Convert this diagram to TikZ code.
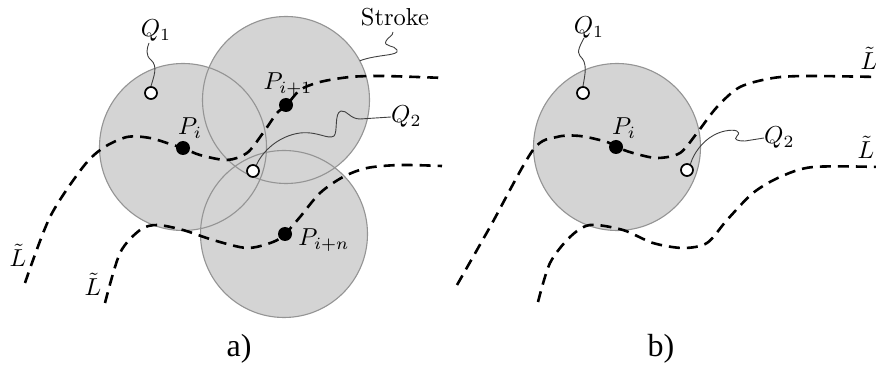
\documentclass[tikz,border=0pt]{standalone}
\usepackage{fontspec}
\usepackage{graphicx}
\newfontfamily\capfont{Liberation Serif}
\usetikzlibrary{calc}
\newcommand{\sclab}[1]{\scalebox{2.45}{#1}}
\begin{document}
\begin{tikzpicture}[x=1pt,y=-1pt,
  diskfill/.style={fill=black!17},
  diskline/.style={draw=black!42,line width=1.1pt},
  curve/.style={line width=2.6pt,dash pattern=on 11pt off 7pt},
  leader/.style={draw=black!75,line width=0.9pt},
  openpt/.style={circle,draw=black,fill=white,line width=1.7pt,inner sep=0pt,minimum size=12pt},
  fullpt/.style={circle,fill=black,inner sep=0pt,minimum size=14pt},
  lab/.style={inner sep=0pt},
  caplab/.style={inner sep=0pt,font=\capfont\fontsize{32}{36}\selectfont}]
\useasboundingbox (0,0) rectangle (876,366);
\clip (0,0) rectangle (876,366);
% ---------- discs ----------
\coordinate (c1) at (183,147);
\coordinate (c2) at (286,100);
\coordinate (c3) at (284,234);
\coordinate (cb) at (617,147);
\foreach \c in {c1,c2,c3,cb} \fill[diskfill] (\c) circle[radius=83.5pt];
\foreach \c in {c1,c2,c3,cb} \draw[diskline] (\c) circle[radius=83.5pt];
% dashed curves a
\draw[curve] plot[smooth] coordinates {(25,283) (50,217) (83,167) (103,148) (127,137) (150,138) (173,145) (183,148) (200,155) (227,160) (247,153) (263,133) (277,113) (286,106) (300,90) (320,82) (350,77) (383,76) (445,78)};
\draw[curve] plot[smooth] coordinates {(105,303) (120,253) (140,230) (157,225) (183,230) (213,240) (247,248) (273,242) (285,234) (300,217) (320,193) (343,177) (367,168) (400,165) (442,166)};
% dashed curves b
\draw[curve] plot[smooth] coordinates {(457,285) (490,227) (533,150) (557,137) (580,136) (607,142) (616,147) (633,153) (657,158) (680,153) (697,133) (717,107) (740,87) (773,78) (807,76) (880,77)};
\draw[curve] plot[smooth] coordinates {(538,302) (550,263) (570,237) (590,225) (623,230) (653,243) (683,248) (707,243) (727,220) (753,193) (780,177) (813,167) (880,167)};
% points a
\node[openpt] (q1) at (151,93) {};
\node[fullpt] (pi) at (183,148) {};
\node[fullpt] (pi1) at (286,105) {};
\node[openpt] (q2) at (253,171) {};
\node[fullpt] (pin) at (285,234) {};
% labels a
\node[lab] (q1lab) at (156,31) {\sclab{$Q_1$}};
\node[lab] (pilab) at (190,128) {\sclab{$P_i$}};
\node[lab] (pi1lab) at (288,84) {\sclab{$P_{i+1}$}};
\node[lab,anchor=west] (q2lab) at (391,117) {\sclab{$Q_2$}};
\node[lab] (pinlab) at (324,240) {\sclab{$P_{i+n}$}};
\node[lab] (stroke) at (395,17) {\sclab{Stroke}};
\node[lab] (l1) at (18,255) {\sclab{$\tilde{L}$}};
\node[lab] (l2) at (93,284) {\sclab{$\tilde{L}$}};
\node[caplab] (capa) at (239,349) {a)};
% leaders a
\coordinate (q1end) at (149,43);
\draw[leader] (q1.north) .. controls (154,76) and (158,66) .. (151,60) .. controls (145,55) and (147,48) .. (q1end);
\coordinate (strokeend) at (393,32);
\draw[leader] ($(c2)+(28:83.5pt)$) .. controls (378,54) and (400,56) .. (397,50) .. controls (395,45) and (383,47) .. (386,41) .. controls (388,37) and (393,36) .. (strokeend);
\draw[leader] (q2.60) .. controls (262,152) and (278,136) .. (300,133) .. controls (318,131) and (328,140) .. (334,136) .. controls (338,132) and (334,113) .. (341,111) .. controls (347,110) and (350,119) .. (360,119) -- (q2lab.west);
% ---------- panel b ----------
\node[openpt] (q1b) at (583,93) {};
\node[fullpt] (pib) at (616,147) {};
\node[openpt] (q2b) at (687,170) {};
\node[lab] (q1blab) at (589,28) {\sclab{$Q_1$}};
\node[lab] (piblab) at (624,128) {\sclab{$P_i$}};
\node[lab,anchor=west] (q2blab) at (764,138) {\sclab{$Q_2$}};
\node[lab] (lb1) at (869,58) {\sclab{$\tilde{L}$}};
\node[lab] (lb2) at (866,147) {\sclab{$\tilde{L}$}};
\node[caplab] (capb) at (661,349) {b)};
\coordinate (q1bend) at (584,38);
\draw[leader] (q1b.north) .. controls (585,74) and (588,63) .. (580,56) .. controls (576,52) and (581,44) .. (q1bend);
\draw[leader] (q2b.60) .. controls (694,152) and (706,135) .. (725,131) .. controls (735,129) and (742,131) .. (737,136) .. controls (733,140) and (738,141) .. (745,141) -- (q2blab.west);
\end{tikzpicture}
\end{document}
